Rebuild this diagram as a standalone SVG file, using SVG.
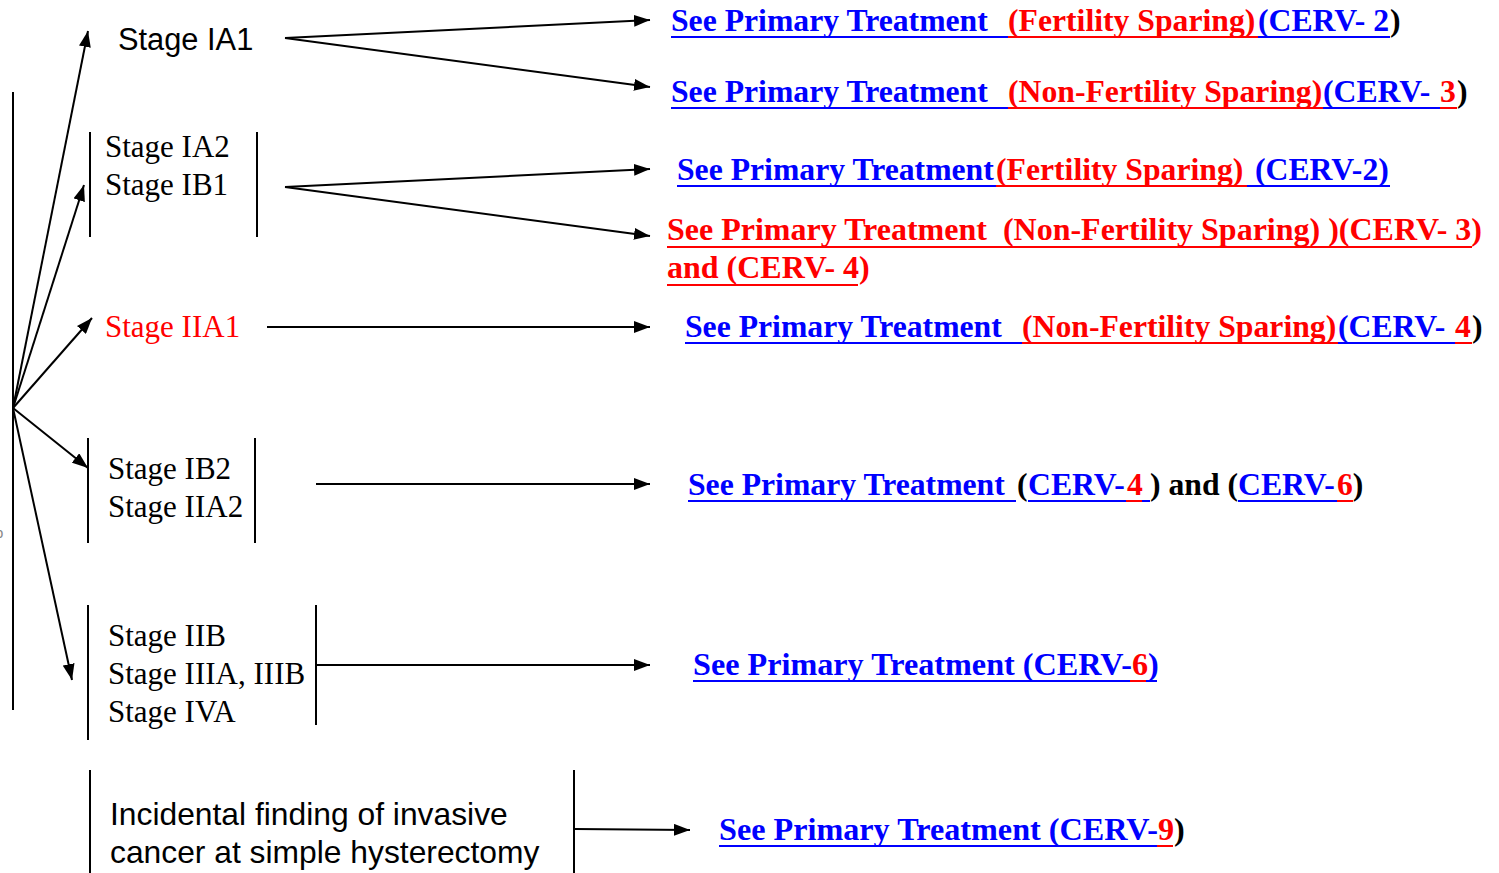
<svg xmlns="http://www.w3.org/2000/svg" width="1499" height="873" viewBox="0 0 1499 873">
  <style>
    .sans { font-family: "Liberation Sans", Arial, sans-serif; font-size: 30.8px; fill: #000; }
    .serif { font-family: "Liberation Serif", "Times New Roman", serif; font-size: 31px; fill: #000; }
    .ref { font-family: "Liberation Serif", "Times New Roman", serif; font-size: 31.7px; font-weight: bold; }
    .b { fill: #0000ff; }
    .r { fill: #ff0000; }
    .k { fill: #000; }
    .red { fill: #ff0000; }
    .wire { stroke: #000; stroke-width: 2; fill: none; }
    .bar { stroke: #000; stroke-width: 2; }
    .ulb { stroke: #0000ff; stroke-width: 2; }
    .ulr { stroke: #ff0000; stroke-width: 2; }
  </style>
  <defs>
    <marker id="arrow" markerUnits="userSpaceOnUse" markerWidth="16" markerHeight="12" refX="16" refY="6" orient="auto">
      <path d="M0,0 L16,6 L0,12 z" fill="#000"/>
    </marker>
  </defs>
  <rect width="1499" height="873" fill="#fff"/>

  <!-- label fragment at the left edge -->
  <text x="-5" y="538" font-family="Liberation Sans, sans-serif" font-size="15" fill="#888">b</text>

  <!-- stage nodes -->
  <g id="stage-ia1">
    <text class="sans" x="118" y="50">Stage IA1</text>
  </g>
  <g id="stage-ia2-ib1">
    <line class="bar" x1="90" y1="132" x2="90" y2="237"/>
    <line class="bar" x1="257" y1="132" x2="257" y2="237"/>
    <text class="serif" x="105" y="157">Stage IA2</text>
    <text class="serif" x="105" y="195">Stage IB1</text>
  </g>
  <g id="stage-iia1">
    <text class="serif red" x="105" y="337">Stage IIA1</text>
  </g>
  <g id="stage-ib2-iia2">
    <line class="bar" x1="88" y1="438" x2="88" y2="543"/>
    <line class="bar" x1="255" y1="438" x2="255" y2="543"/>
    <text class="serif" x="108" y="479">Stage IB2</text>
    <text class="serif" x="108" y="517">Stage IIA2</text>
  </g>
  <g id="stage-iib-iva">
    <line class="bar" x1="88" y1="605" x2="88" y2="740"/>
    <line class="bar" x1="316" y1="605" x2="316" y2="725"/>
    <text class="serif" x="108" y="646">Stage IIB</text>
    <text class="serif" x="108" y="684">Stage IIIA, IIIB</text>
    <text class="serif" x="108" y="722">Stage IVA</text>
  </g>
  <g id="incidental">
    <line class="bar" x1="90" y1="770" x2="90" y2="873"/>
    <line class="bar" x1="574" y1="770" x2="574" y2="873"/>
    <text class="sans" x="110" y="825" style="font-size:31.8px">Incidental finding of invasive</text>
    <text class="sans" x="110" y="863" style="font-size:31.8px">cancer at simple hysterectomy</text>
  </g>

  <!-- treatment references -->
  <g id="ref-ia1-fs">
    <text class="ref" y="31"><tspan class="b" x="671">See Primary Treatment</tspan><tspan class="r" x="1008">(Fertility Sparing)</tspan><tspan class="b" x="1258">(CERV- 2</tspan><tspan class="k" x="1390">)</tspan></text>
    <line class="ulb" x1="671" y1="37" x2="1008" y2="37"/>
    <line class="ulr" x1="1008" y1="37" x2="1258" y2="37"/>
    <line class="ulb" x1="1258" y1="37" x2="1390" y2="37"/>
  </g>
  <g id="ref-ia1-nfs">
    <text class="ref" y="102"><tspan class="b" x="671">See Primary Treatment</tspan><tspan class="r" x="1008">(Non-Fertility Sparing)</tspan><tspan class="b" x="1323">(CERV- </tspan><tspan class="r" x="1440">3</tspan><tspan class="k" x="1457">)</tspan></text>
    <line class="ulb" x1="671" y1="108" x2="1008" y2="108"/>
    <line class="ulr" x1="1008" y1="108" x2="1323" y2="108"/>
    <line class="ulb" x1="1323" y1="108" x2="1440" y2="108"/>
    <line class="ulr" x1="1440" y1="108" x2="1457" y2="108"/>
  </g>
  <g id="ref-ia2-fs">
    <text class="ref" y="180"><tspan class="b" x="677">See Primary Treatment</tspan><tspan class="r" x="996">(Fertility Sparing)</tspan><tspan class="b" x="1255">(CERV-2)</tspan></text>
    <line class="ulb" x1="677" y1="186" x2="996" y2="186"/>
    <line class="ulr" x1="996" y1="186" x2="1247" y2="186"/>
    <line class="ulb" x1="1247" y1="186" x2="1390" y2="186"/>
  </g>
  <g id="ref-ia2-nfs">
    <text class="ref r" x="667" y="240" style="font-size:32px" xml:space="preserve">See Primary Treatment  (Non-Fertility Sparing) )(CERV- 3)</text>
    <text class="ref r" x="667" y="278" style="font-size:32px">and (CERV- 4)</text>
    <line class="ulr" x1="667" y1="247" x2="1472" y2="247"/>
    <line class="ulr" x1="667" y1="285" x2="858" y2="285"/>
  </g>
  <g id="ref-iia1">
    <text class="ref" y="337"><tspan class="b" x="685">See Primary Treatment</tspan><tspan class="r" x="1022">(Non-Fertility Sparing)</tspan><tspan class="b" x="1338">(CERV- </tspan><tspan class="r" x="1455">4</tspan><tspan class="k" x="1472">)</tspan></text>
    <line class="ulb" x1="685" y1="343" x2="1022" y2="343"/>
    <line class="ulr" x1="1022" y1="343" x2="1338" y2="343"/>
    <line class="ulb" x1="1338" y1="343" x2="1455" y2="343"/>
    <line class="ulr" x1="1455" y1="343" x2="1472" y2="343"/>
  </g>
  <g id="ref-ib2">
    <text class="ref" y="495"><tspan class="b" x="688">See Primary Treatment</tspan><tspan class="k" x="1017">(</tspan><tspan class="b" x="1028">CERV-</tspan><tspan class="r" x="1127">4</tspan><tspan class="k" x="1150">) and (</tspan><tspan class="b" x="1238">CERV-</tspan><tspan class="r" x="1337">6</tspan><tspan class="k">)</tspan></text>
    <line class="ulb" x1="688" y1="501" x2="1016" y2="501"/>
    <line class="ulb" x1="1028" y1="501" x2="1126" y2="501"/>
    <line class="ulr" x1="1126" y1="501" x2="1142" y2="501"/>
    <line class="ulb" x1="1142" y1="501" x2="1150" y2="501"/>
    <line class="ulb" x1="1238" y1="501" x2="1337" y2="501"/>
    <line class="ulr" x1="1337" y1="501" x2="1353" y2="501"/>
  </g>
  <g id="ref-iib">
    <text class="ref" x="693" y="675" style="font-size:32.2px"><tspan class="b">See Primary Treatment (CERV-</tspan><tspan class="r">6</tspan><tspan class="b">)</tspan></text>
    <line class="ulb" x1="693" y1="681" x2="1130" y2="681"/>
    <line class="ulr" x1="1130" y1="681" x2="1146" y2="681"/>
    <line class="ulb" x1="1146" y1="681" x2="1157" y2="681"/>
  </g>
  <g id="ref-incidental">
    <text class="ref" x="719" y="840" style="font-size:32.2px"><tspan class="b">See Primary Treatment (CERV-</tspan><tspan class="r">9</tspan><tspan class="k">)</tspan></text>
    <line class="ulb" x1="719" y1="846" x2="1157" y2="846"/>
    <line class="ulr" x1="1157" y1="846" x2="1173" y2="846"/>
  </g>

  <!-- connectors -->
  <g id="connectors">
    <line class="bar" x1="13" y1="92" x2="13" y2="710"/>
    <line class="wire" x1="13" y1="408" x2="88" y2="31" marker-end="url(#arrow)"/>
    <line class="wire" x1="13" y1="408" x2="84" y2="185" marker-end="url(#arrow)"/>
    <line class="wire" x1="13" y1="408" x2="92" y2="318" marker-end="url(#arrow)"/>
    <line class="wire" x1="13" y1="408" x2="88" y2="468" marker-end="url(#arrow)"/>
    <line class="wire" x1="13" y1="408" x2="72" y2="680" marker-end="url(#arrow)"/>

    <line class="wire" x1="285" y1="38" x2="650" y2="20" marker-end="url(#arrow)"/>
    <line class="wire" x1="285" y1="38" x2="650" y2="87" marker-end="url(#arrow)"/>
    <line class="wire" x1="285" y1="187" x2="650" y2="169" marker-end="url(#arrow)"/>
    <line class="wire" x1="285" y1="187" x2="650" y2="236" marker-end="url(#arrow)"/>
    <line class="wire" x1="267" y1="327" x2="650" y2="327" marker-end="url(#arrow)"/>
    <line class="wire" x1="316" y1="484" x2="650" y2="484" marker-end="url(#arrow)"/>
    <line class="wire" x1="316" y1="665" x2="650" y2="665" marker-end="url(#arrow)"/>
    <line class="wire" x1="575" y1="829" x2="690" y2="830" marker-end="url(#arrow)"/>
  </g>
</svg>
